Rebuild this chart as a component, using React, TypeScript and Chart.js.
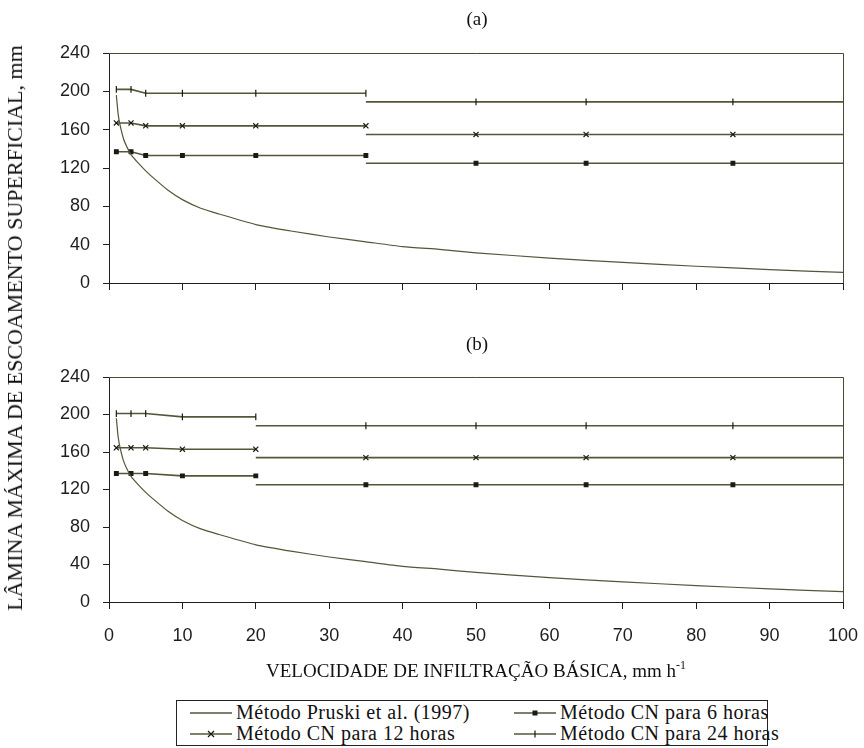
import React, { useEffect, useRef } from 'react';
import { Chart, registerables } from 'chart.js';
Chart.register(...registerables);

// ---- data ----
const xMin = 0;
const xMax = 100;
const xStep = 10;
const yMin = 0;
const yMax = 240;
const yStep = 40;

const pruskiX = [1, 1.25, 1.5, 2, 2.5, 3, 4, 5, 6, 8, 10, 12.5, 15, 20, 25, 30, 35, 40, 45, 50, 60, 70, 80, 90, 100];
const pruskiY = [196, 176, 165, 150, 141, 134, 125, 117, 110, 97, 87, 78, 72, 61, 54, 48, 43, 38, 35, 31.5, 26, 21.5, 17.5, 14, 11];

// chart (a)
const aLeftX = [1, 3, 5, 10, 20, 35];
const aRightX = [35, 50, 65, 85, 100];
const a6Left = [137, 137, 133, 133, 133, 133];
const a6Right = [125, 125, 125, 125, 125];
const a12Left = [167, 167, 164, 164, 164, 164];
const a12Right = [155, 155, 155, 155, 155];
const a24Left = [202, 202, 198, 198, 198, 198];
const a24Right = [189, 189, 189, 189, 189];

// chart (b)
const bLeftX = [1, 3, 5, 10, 20];
const bRightX = [20, 35, 50, 65, 85, 100];
const b6Left = [137, 137, 137, 134.5, 134.5];
const b6Right = [125, 125, 125, 125, 125, 125];
const b12Left = [164.5, 164.5, 164.5, 163, 163];
const b12Right = [154, 154, 154, 154, 154, 154];
const b24Left = [201, 201, 201, 197.5, 197.5];
const b24Right = [188, 188, 188, 188, 188, 188];

const legendLabels = [
  'Método Pruski et al. (1997)',
  'Método CN para 6 horas',
  'Método CN para 12 horas',
  'Método CN para 24 horas',
];

// ---- styles ----
const LINE = '#55553a';
const MARK = '#1a1a14';
const AXIS = '#1e1e1e';

const pts = (xs: number[], ys: number[]) => xs.map((x, i) => ({ x, y: ys[i] }));

type Style = { pointStyle: any; radius: number; rotation?: number };
const S6: Style = { pointStyle: 'rect', radius: 2.6 };
const S12: Style = { pointStyle: 'crossRot', radius: 3.6 };
const S24: Style = { pointStyle: 'line', radius: 3.4, rotation: 90 };

function seg(xs: number[], ys: number[], st: Style, right: boolean) {
  const n = xs.length;
  return {
    data: pts(xs, ys),
    showLine: true,
    borderColor: LINE,
    borderWidth: 1.6,
    pointStyle: st.pointStyle,
    rotation: st.rotation || 0,
    pointRadius: (c: any) => (right && (c.dataIndex === 0 || c.dataIndex === n - 1) ? 0 : st.radius),
    pointBorderColor: MARK,
    pointBackgroundColor: MARK,
    pointBorderWidth: 1.2,
    tension: 0,
  };
}

const framePlugin = {
  id: 'frame',
  afterDraw(chart: any) {
    const { ctx, chartArea } = chart;
    const { left, top, right, bottom } = chartArea;
    ctx.save();
    ctx.strokeStyle = '#4a4a34';
    ctx.lineWidth = 1;
    ctx.beginPath();
    ctx.moveTo(left, Math.round(top) + 0.5);
    ctx.lineTo(Math.round(right) + 0.5, Math.round(top) + 0.5);
    ctx.lineTo(Math.round(right) + 0.5, bottom);
    ctx.stroke();
    ctx.restore();
  },
};

function makeConfig(part: 'a' | 'b') {
  const isA = part === 'a';
  const lx = isA ? aLeftX : bLeftX;
  const rx = isA ? aRightX : bRightX;
  const datasets = [
    {
      data: pts(pruskiX, pruskiY),
      showLine: true,
      borderColor: LINE,
      borderWidth: 1.2,
      pointRadius: 0,
      tension: 0.2,
    },
    seg(lx, isA ? a6Left : b6Left, S6, false),
    seg(rx, isA ? a6Right : b6Right, S6, true),
    seg(lx, isA ? a12Left : b12Left, S12, false),
    seg(rx, isA ? a12Right : b12Right, S12, true),
    seg(lx, isA ? a24Left : b24Left, S24, false),
    seg(rx, isA ? a24Right : b24Right, S24, true),
  ];
  return {
    type: 'scatter',
    data: { datasets },
    plugins: [framePlugin],
    options: {
      animation: false,
      responsive: false,
      events: [],
      layout: {
        autoPadding: false,
        padding: { top: isA ? 53 : 57, right: 21, left: 0, bottom: 0 },
      },
      plugins: { legend: { display: false }, tooltip: { enabled: false }, title: { display: false } },
      scales: {
        x: {
          type: 'linear',
          min: xMin,
          max: xMax,
          afterFit: (s: any) => {
            s.height = isA ? 17 : 58;
            s.paddingLeft = 0;
            s.paddingRight = 0;
          },
          ticks: {
            display: !isA,
            stepSize: xStep,
            padding: 16,
            color: AXIS,
            font: { family: '"Liberation Sans", Arial, sans-serif', size: 18 },
          },
          grid: { display: true, drawOnChartArea: false, drawTicks: true, tickLength: 7, color: AXIS, lineWidth: 1 },
          border: { display: true, color: AXIS, width: 1 },
        },
        y: {
          type: 'linear',
          min: yMin,
          max: yMax,
          afterFit: (s: any) => {
            s.width = 109;
            s.paddingTop = 0;
            s.paddingBottom = 0;
          },
          ticks: {
            stepSize: yStep,
            padding: 13,
            color: AXIS,
            font: { family: '"Liberation Sans", Arial, sans-serif', size: 18 },
          },
          grid: { display: true, drawOnChartArea: false, drawTicks: true, tickLength: 6, color: AXIS, lineWidth: 1 },
          border: { display: true, color: AXIS, width: 1 },
        },
      },
    },
  } as any;
}

function ChartCanvas({ part, top, height }: { part: 'a' | 'b'; top: number; height: number }) {
  const ref = useRef<HTMLCanvasElement>(null);
  useEffect(() => {
    if (!ref.current) return;
    const ch = new Chart(ref.current, makeConfig(part));
    return () => ch.destroy();
  }, [part]);
  return (
    <canvas
      ref={ref}
      width={864}
      height={height}
      style={{ position: 'absolute', left: 0, top, width: 864, height }}
    />
  );
}

function Sample({ kind }: { kind: number }) {
  return (
    <svg width={42} height={12} style={{ position: 'absolute', left: 0, top: 6 }}>
      <line x1={0} y1={6} x2={42} y2={6} stroke={LINE} strokeWidth={1.6} />
      {kind === 1 && <rect x={18.5} y={3.5} width={5} height={5} fill={MARK} />}
      {kind === 2 && (
        <g stroke={MARK} strokeWidth={1.2}>
          <line x1={18} y1={3} x2={24} y2={9} />
          <line x1={24} y1={3} x2={18} y2={9} />
        </g>
      )}
      {kind === 3 && <line x1={21} y1={2.5} x2={21} y2={9.5} stroke={MARK} strokeWidth={1.2} />}
    </svg>
  );
}

const serif = '"Liberation Serif", "Times New Roman", serif';

export default function App() {
  const legendItem = (i: number, left: number, top: number) => (
    <div style={{ position: 'absolute', left, top, height: 22 }}>
      <Sample kind={i} />
      <span
        style={{
          position: 'absolute',
          left: 46,
          top: 0,
          whiteSpace: 'nowrap',
          fontFamily: serif,
          fontSize: 20,
          lineHeight: '22px',
          letterSpacing: 0.5,
          color: '#111',
        }}
      >
        {legendLabels[i]}
      </span>
    </div>
  );
  return (
    <div
      style={{
        position: 'absolute',
        left: 0,
        top: 0,
        width: 864,
        height: 748,
        background: '#fff',
        overflow: 'hidden',
        fontFamily: serif,
        color: '#111',
      }}
    >
      <ChartCanvas part="a" top={0} height={300} />
      <ChartCanvas part="b" top={320} height={340} />
      <div style={{ position: 'absolute', left: 477, top: 19, transform: 'translate(-50%, -50%)', fontSize: 19, fontFamily: serif }}>(a)</div>
      <div style={{ position: 'absolute', left: 477, top: 344, transform: 'translate(-50%, -50%)', fontSize: 19, fontFamily: serif }}>(b)</div>
      <div
        style={{
          position: 'absolute',
          left: 15,
          top: 328,
          transform: 'translate(-50%, -50%) rotate(-90deg)',
          whiteSpace: 'nowrap',
          fontSize: 22,
          lineHeight: '22px',
          fontFamily: serif,
        }}
      >
        LÂMINA MÁXIMA DE ESCOAMENTO SUPERFICIAL, mm
      </div>
      <div
        style={{
          position: 'absolute',
          left: 476,
          top: 668,
          transform: 'translate(-50%, -50%)',
          whiteSpace: 'nowrap',
          fontSize: 19,
          lineHeight: '20px',
          fontFamily: serif,
        }}
      >
        VELOCIDADE DE INFILTRAÇÃO BÁSICA, mm h<sup style={{ fontSize: 12 }}>-1</sup>
      </div>
      <div
        style={{
          position: 'absolute',
          left: 176,
          top: 700,
          width: 592,
          height: 46,
          border: '1px solid #222',
          boxSizing: 'border-box',
        }}
      />
      {legendItem(0, 190, 701)}
      {legendItem(1, 514, 701)}
      {legendItem(2, 190, 722)}
      {legendItem(3, 514, 722)}
    </div>
  );
}
